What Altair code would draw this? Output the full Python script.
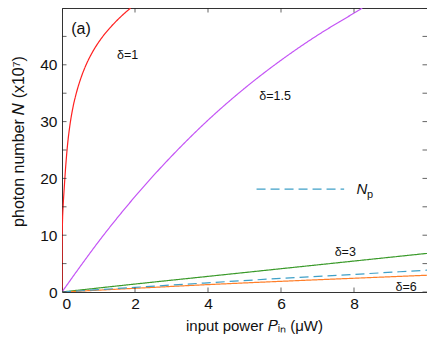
import altair as alt
import pandas as pd

# ---- data ----
red_x = [0, 0.002, 0.006, 0.015, 0.03, 0.06, 0.1, 0.15, 0.22, 0.3, 0.4, 0.52, 0.66, 0.85, 1.05, 1.3, 1.6, 1.88]
red_y = [0, 6, 10, 12.8, 15, 18.2, 22, 25.8, 29.5, 32.5, 35.2, 37.7, 40, 42.4, 44.4, 46.4, 48.4, 50]

purple_x = [0, 0.5, 1, 2, 3, 4, 5, 6, 7, 8, 8.23]
purple_y = [0, 4.5, 8.85, 16.8, 23.9, 30.25, 35.85, 40.8, 45.2, 49.1, 50]

green_x = [0, 2, 4, 6, 8, 10]
green_y = [0, 1.4, 2.75, 4.1, 5.45, 6.8]

orange_x = [0, 2, 4, 6, 8, 10]
orange_y = [0, 0.65, 1.3, 1.88, 2.42, 2.95]

np_x = [0, 2, 4.2, 6, 8, 10]
np_y = [0, 0.82, 1.7, 2.4, 3.1, 3.85]

legend_x = [5.33, 7.73]
legend_y = [18.1, 18.1]

series_names = ["d1", "d1.5", "d3", "d6", "Np"]
series_colors = ["#ff2020", "#c455f5", "#3a9a2a", "#ff7f2a", "#3fa0c8"]
series_dash = [[1, 0], [1, 0], [1, 0], [1, 0], [9, 5]]

x_ticks = [0, 2, 4, 6, 8]
y_ticks = [0, 5, 10, 15, 20, 25, 30, 35, 40, 45, 50]
y_labels = [0, 10, 20, 30, 40]

ann_text = ["δ=1", "δ=1.5", "δ=3", "δ=6"]
ann_x = [1.80, 5.84, 7.76, 9.43]
ann_y = [41.8, 34.5, 7.0, 0.9]

# ---- tables ----
rows = []
for name, xs, ys in [("d1", red_x, red_y), ("d1.5", purple_x, purple_y),
                     ("d3", green_x, green_y), ("d6", orange_x, orange_y),
                     ("Np", np_x, np_y)]:
    for i, (a, b) in enumerate(zip(xs, ys)):
        rows.append({"series": name, "x": a, "y": b, "i": i})
df = pd.DataFrame(rows)

leg_df = pd.DataFrame({"series": "Np", "x": legend_x, "y": legend_y, "i": [0, 1]})

tick_rows = []
for v in x_ticks:
    tick_rows.append({"x": v, "y": 0, "o": "v"})
    tick_rows.append({"x": v, "y": 50, "o": "v"})
for v in y_ticks:
    tick_rows.append({"x": 0, "y": v, "o": "h"})
    tick_rows.append({"x": 10, "y": v, "o": "h"})
ticks_df = pd.DataFrame(tick_rows)

ann_df = pd.DataFrame({"t": ann_text, "x": ann_x, "y": ann_y})
a_df = pd.DataFrame({"t": ["(a)"], "x": [0.52], "y": [46.3]})
n_df = pd.DataFrame({"t": ["N"], "x": [8.22], "y": [18.1]})
p_df = pd.DataFrame({"t": ["p"], "x": [8.44], "y": [17.0]})

FONT = "Liberation Sans"

xscale = alt.Scale(domain=[0, 10], nice=False, zero=False)
yscale = alt.Scale(domain=[0, 50], nice=False, zero=False)
xaxis = alt.Axis(values=x_ticks, title="input power  𝑃ᵢₙ (μW)", ticks=False, grid=False,
                 domain=False, labelPadding=4, titlePadding=7, titleX=192)
yaxis = alt.Axis(values=y_labels, title="photon number  𝑁 (x10⁷)", ticks=False, grid=False,
                 domain=False, labelPadding=5, titlePadding=13, titleY=133, titleFontSize=16)

X = alt.X("x:Q", scale=xscale, axis=xaxis)
Y = alt.Y("y:Q", scale=yscale, axis=yaxis)

lines = alt.Chart(df).mark_line(strokeWidth=1.2, clip=True, interpolate="monotone").encode(
    x=X, y=Y,
    color=alt.Color("series:N", scale=alt.Scale(domain=series_names, range=series_colors), legend=None),
    strokeDash=alt.StrokeDash("series:N", scale=alt.Scale(domain=series_names, range=series_dash), legend=None),
    order="i:Q",
)

legend_line = alt.Chart(leg_df).mark_line(strokeWidth=1.2, color="#3fa0c8", strokeDash=[9, 5]).encode(
    x=X, y=Y
)

vticks = alt.Chart(ticks_df).transform_filter(alt.datum.o == "v").mark_tick(
    orient="vertical", size=9, thickness=1, color="#222", clip=True).encode(x=X, y=Y)
hticks = alt.Chart(ticks_df).transform_filter(alt.datum.o == "h").mark_tick(
    orient="horizontal", size=9, thickness=1, color="#222", clip=True).encode(x=X, y=Y)

ann = alt.Chart(ann_df).mark_text(font=FONT, fontSize=12.5, color="#111").encode(x=X, y=Y, text="t:N")
a_lab = alt.Chart(a_df).mark_text(font=FONT, fontSize=16, color="#111").encode(x=X, y=Y, text="t:N")
n_lab = alt.Chart(n_df).mark_text(font=FONT, fontSize=15, fontStyle="italic", color="#111").encode(x=X, y=Y, text="t:N")
p_lab = alt.Chart(p_df).mark_text(font=FONT, fontSize=11, color="#111").encode(x=X, y=Y, text="t:N")

chart = alt.layer(lines, legend_line, vticks, hticks, ann, a_lab, n_lab, p_lab).properties(
    width=365, height=284,
    padding={"left": 2, "top": 0, "right": 0, "bottom": 0},
).configure_view(stroke="#333", strokeWidth=1).configure_axis(
    labelFont=FONT, titleFont=FONT, labelFontSize=15.5, titleFontSize=15,
    labelColor="#111", titleColor="#111", titleFontWeight="normal",
)

chart.save("out.html", embed_options={"renderer": "svg", "actions": False})
